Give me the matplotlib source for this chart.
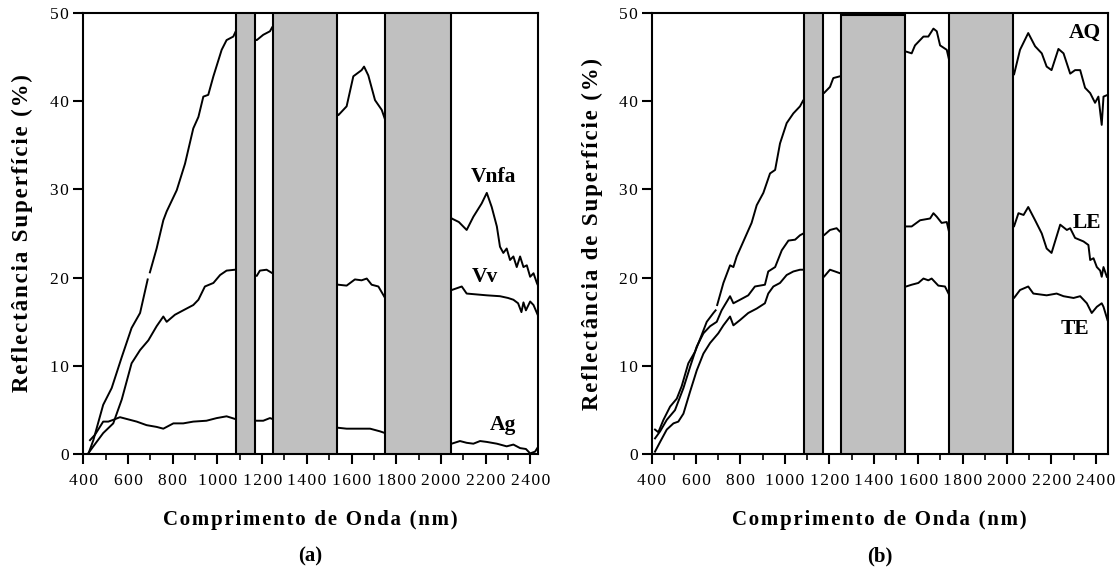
import numpy as np
import matplotlib
matplotlib.use("Agg")
import matplotlib.pyplot as plt
from matplotlib.ticker import MultipleLocator, FuncFormatter

plt.rcParams['font.family'] = ['Liberation Serif', 'DejaVu Serif']

nan = np.nan

# ---- painel (a) ----
vnfa_wl = [422, 445, 489, 527, 572, 616, 654, 688, 693, 698, 728, 758, 773, 818, 855, 892, 915, 937,
           959, 982, 1019, 1041, 1071, 1082, 1176, 1205, 1235, 1246, 1541, 1578, 1608, 1645, 1656,
           1675, 1705, 1735, 1750, 2048, 2080, 2115, 2145, 2182, 2205, 2227, 2250, 2264, 2279, 2294,
           2309, 2324, 2339, 2354, 2369, 2384, 2399, 2414, 2429, 2436]
vnfa = [0.0, 1.6, 5.6, 7.5, 11.0, 14.3, 16.0, 19.8, nan, 20.6, 23.3, 26.5, 27.5, 29.9, 32.9, 36.9, 38.2,
        40.5, 40.7, 42.8, 45.8, 46.9, 47.3, 47.9, 46.9, 47.5, 47.9, 48.4, 38.4, 39.4, 42.8, 43.5, 43.9,
        42.9, 40.1, 39.0, 37.9, 26.7, 26.3, 25.4, 26.9, 28.4, 29.6, 28.0, 25.8, 23.5, 22.8, 23.3,
        22.0, 22.4, 21.2, 22.4, 21.2, 21.4, 20.1, 20.5, 19.4, 19.0]

vv_wl = [422, 445, 489, 534, 572, 616, 654, 691, 728, 758, 773, 810, 847, 892, 915, 944, 982, 1012,
         1041, 1079, 1176, 1190, 1220, 1246, 1541, 1578, 1615, 1645, 1668, 1690, 1720, 1750, 2048,
         2093, 2115, 2160, 2205, 2264, 2300, 2324, 2345, 2360, 2369, 2380, 2399, 2414, 2436]
vv = [0.1, 0.9, 2.4, 3.5, 6.2, 10.3, 11.8, 12.9, 14.5, 15.6, 15.0, 15.8, 16.3, 16.9, 17.5, 19.0, 19.4,
      20.3, 20.8, 20.9, 20.2, 20.8, 20.9, 20.5, 19.2, 19.1, 19.8, 19.7, 19.9, 19.2, 19.0, 17.7, 18.6,
      19.0, 18.2, 18.1, 18.0, 17.9, 17.7, 17.5, 17.1, 16.1, 17.2, 16.3, 17.3, 16.9, 15.6]

ag_wl = [430, 452, 489, 512, 534, 564, 594, 639, 683, 728, 758, 803, 847, 892, 951, 997, 1041, 1079,
         1176, 1205, 1235, 1246, 1541, 1578, 1638, 1683, 1727, 1750, 2048, 2085, 2115, 2145, 2175,
         2205, 2250, 2294, 2324, 2354, 2380, 2399, 2421, 2436]
ag = [1.6, 2.2, 3.7, 3.7, 3.9, 4.2, 4.0, 3.7, 3.3, 3.1, 2.9, 3.5, 3.5, 3.7, 3.8, 4.1, 4.3, 4.0,
      3.8, 3.8, 4.1, 4.0, 3.0, 2.9, 2.9, 2.9, 2.6, 2.4, 1.2, 1.5, 1.3, 1.2, 1.5,
      1.4, 1.2, 0.9, 1.1, 0.7, 0.6, 0.1, 0.3, 0.9]

# ---- painel (b) ----
aq_wl = [415, 430, 453, 483, 513, 535, 565, 595, 625, 648, 678, 688, 693, 695, 723, 753, 768, 783, 813,
         850, 873, 903, 918, 933, 956, 978, 1008, 1038, 1068, 1083, 1176, 1203, 1218, 1248, 1546,
         1571, 1586, 1624, 1646, 1669, 1684, 1699, 1729, 1741, 2032, 2059, 2096, 2127, 2157, 2179,
         2201, 2232, 2255, 2285, 2307, 2330, 2352, 2375, 2397, 2412, 2427, 2435, 2454]
aq = [2.8, 2.5, 3.9, 5.4, 6.3, 7.7, 10.3, 11.6, 13.5, 15.0, 16.0, 16.3, nan, 16.9, 19.4, 21.4, 21.2,
      22.4, 24.1, 26.2, 28.2, 29.6, 30.7, 31.8, 32.2, 35.2, 37.5, 38.6, 39.4, 40.1, 40.9, 41.6, 42.6,
      42.8, 45.6, 45.4, 46.3, 47.3, 47.3, 48.2, 47.9, 46.3, 45.8, 44.5, 43.0, 45.8, 47.7, 46.2, 45.4,
      43.9, 43.5, 45.9, 45.4, 43.1, 43.5, 43.5, 41.5, 40.9, 39.8, 40.5, 37.3, 40.5, 40.7]

le_wl = [415, 438, 468, 505, 543, 573, 603, 633, 663, 693, 715, 753, 768, 798, 835, 865, 910, 925,
         956, 986, 1016, 1046, 1068, 1083, 1176, 1203, 1233, 1248, 1546, 1571, 1609, 1654, 1669,
         1684, 1706, 1729, 1741, 2032, 2052, 2075, 2096, 2127, 2157, 2179, 2201, 2240, 2270, 2285,
         2307, 2345, 2367, 2375, 2390, 2405, 2420, 2427, 2435, 2450]
le = [1.8, 2.6, 3.9, 5.0, 7.5, 9.9, 12.2, 13.7, 14.5, 15.0, 16.3, 17.9, 17.1, 17.5, 18.0, 19.0, 19.2,
      20.7, 21.2, 23.1, 24.2, 24.3, 24.8, 25.0, 24.8, 25.4, 25.6, 25.2, 25.8, 25.8, 26.5, 26.7, 27.3,
      26.9, 26.2, 26.3, 25.0, 25.8, 27.3, 27.1, 28.0, 26.5, 25.0, 23.3, 22.8, 26.0, 25.4, 25.6,
      24.5, 24.1, 23.7, 22.0, 22.2, 21.2, 20.8, 20.1, 21.2, 20.1]

te_wl = [415, 438, 468, 498, 520, 543, 573, 603, 633, 663, 700, 723, 753, 768, 798, 835, 873, 910,
         925, 948, 978, 1008, 1038, 1068, 1083, 1176, 1203, 1226, 1248, 1546, 1571, 1601, 1624, 1646,
         1661, 1691, 1721, 1741, 2032, 2059, 2096, 2119, 2179, 2224, 2255, 2300, 2330, 2360, 2382,
         2405, 2427, 2435, 2453]
te = [0.3, 1.4, 2.8, 3.5, 3.7, 4.6, 7.1, 9.5, 11.4, 12.6, 13.7, 14.6, 15.6, 14.6, 15.2, 16.0, 16.5,
      17.1, 18.2, 19.0, 19.4, 20.3, 20.7, 20.9, 20.9, 20.1, 20.9, 20.7, 20.5, 19.0, 19.2, 19.4, 19.9,
      19.7, 19.9, 19.1, 19.0, 18.0, 17.7, 18.6, 19.0, 18.2, 18.0, 18.2, 17.9, 17.7, 17.9, 17.1, 16.0,
      16.7, 17.1, 16.7, 15.2]

# bandas de absorcao atmosferica (nm)
bands_a = [(1082, 1168), (1247, 1537), (1750, 2045)]
bands_b = [(1085, 1173), (1254, 1541), (1740, 2029)]
tops_b = [50, 49.7, 50]


def spaced(s):
    # espacamento entre letras, como no original
    return '\u200a'.join(s)


fig = plt.figure(figsize=(11.18, 5.68), dpi=100)
ax1 = fig.add_axes([0.0745, 0.2002, 0.4067, 0.7774])
ax2 = fig.add_axes([0.5829, 0.2002, 0.4079, 0.7774])


def style_axis(ax, xmax, ylabel, tag, ylab_x):
    ax.set_xlim(400, xmax)
    ax.set_ylim(0, 50)
    ax.xaxis.set_major_locator(MultipleLocator(200))
    ax.xaxis.set_minor_locator(MultipleLocator(100))
    ax.yaxis.set_major_locator(MultipleLocator(10))
    fmt = FuncFormatter(lambda v, p: spaced(f"{v:.0f}"))
    ax.xaxis.set_major_formatter(fmt)
    ax.yaxis.set_major_formatter(fmt)
    ax.tick_params(axis='both', which='major', direction='out', length=7.2, width=1.5,
                   labelsize=12.5)
    ax.tick_params(axis='x', which='major', pad=6)
    ax.tick_params(axis='y', which='major', pad=3)
    ax.tick_params(axis='x', which='minor', direction='out', length=4.3, width=1.2)
    for s in ax.spines.values():
        s.set_linewidth(1.5)
    ax.set_ylabel(spaced(ylabel), fontsize=16.5, fontweight='bold')
    ax.yaxis.set_label_coords(ylab_x, 0.5)
    ax.text(0.5, -0.149, spaced("Comprimento de Onda (nm)"), transform=ax.transAxes,
            ha='center', va='center', fontsize=15, fontweight='bold')
    ax.text(0.5, -0.232, tag, transform=ax.transAxes, ha='center', va='center',
            fontsize=15, fontweight='bold')


for (x0, x1) in bands_a:
    ax1.bar(x0, 50, width=x1 - x0, align='edge', color='#c0c0c0', edgecolor='black',
            linewidth=1.5, zorder=3)
for (x0, x1), top in zip(bands_b, tops_b):
    ax2.bar(x0, top, width=x1 - x0, align='edge', color='#c0c0c0', edgecolor='black',
            linewidth=1.5, zorder=3)

for wl, val in [(vnfa_wl, vnfa), (vv_wl, vv), (ag_wl, ag)]:
    ax1.plot(wl, val, color='black', linewidth=1.4, zorder=2)
for wl, val in [(aq_wl, aq), (le_wl, le), (te_wl, te)]:
    ax2.plot(wl, val, color='black', linewidth=1.4, zorder=2)

style_axis(ax1, 2434, "Reflectância Superfície (%)", "(a)", -0.111)
style_axis(ax2, 2454, "Reflectância de Superfície (%)", "(b)", -0.107)

lab = dict(fontsize=15.5, fontweight='bold', ha='center', va='center', zorder=4)
ax1.text(2233, 31.4, "Vnfa", **lab)
ax1.text(2197, 20.1, "Vv", **lab)
ax1.text(2278, 3.3, "Ag", **lab)
ax2.text(2352, 47.7, "AQ", **lab)
ax2.text(2359, 26.2, "LE", **lab)
ax2.text(2307, 14.2, "TE", **lab)

fig.savefig("out.png", dpi=100)
